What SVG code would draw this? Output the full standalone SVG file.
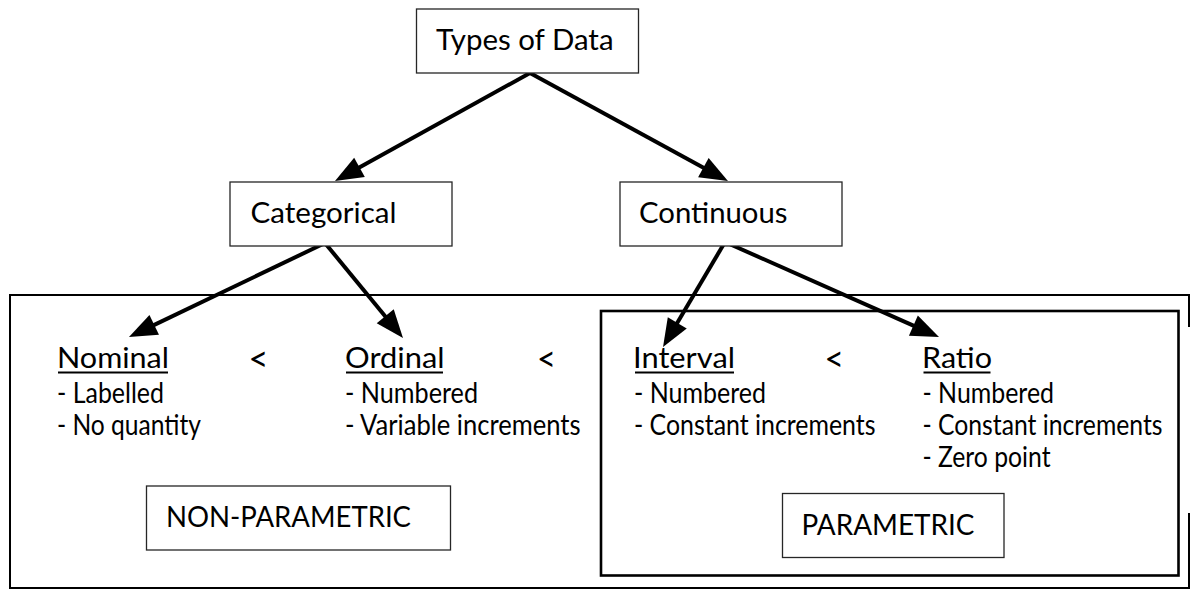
<svg xmlns="http://www.w3.org/2000/svg" width="1191" height="590" viewBox="0 0 1191 590">
  <style>
    text { font-family: Lato, "Open Sans", "Liberation Sans", sans-serif; font-size: 28px; fill: #000; }
    .sign { font-size: 34px; }
    .box { fill: #fff; stroke: #262626; stroke-width: 1.3; }
    .frame { fill: none; stroke: #000; stroke-width: 2; }
    .inner { fill: none; stroke: #000; stroke-width: 2.6; }
    .arrow { fill: none; stroke: #000; stroke-width: 4; marker-end: url(#head); }
    .uline { stroke: #000; stroke-width: 1.8; }
  </style>
  <defs>
    <marker id="head" markerUnits="userSpaceOnUse" markerWidth="28" markerHeight="22" refX="8" refY="11" orient="auto" overflow="visible">
      <path d="M0,0 L28,11 L0,22 z" fill="#000"/>
    </marker>
  </defs>

  <!-- outer frame (open on the right side) and the parametric frame -->
  <g id="non-parametric-frame">
    <path class="frame" d="M1189,327 V295 H10 V588 H1189 V513"/>
  </g>
  <g id="parametric-frame">
    <rect class="inner" x="601" y="311" width="577.5" height="264.5"/>
  </g>

  <g id="connectors">
    <line class="arrow" x1="530" y1="73" x2="352.5" y2="171.3"/>
    <line class="arrow" x1="530" y1="73" x2="710.4" y2="171.4"/>
    <line class="arrow" x1="325" y1="243" x2="147" y2="328.4"/>
    <line class="arrow" x1="325" y1="243" x2="390.3" y2="322.5"/>
    <line class="arrow" x1="725" y1="242" x2="673.2" y2="329.8"/>
    <line class="arrow" x1="725" y1="242" x2="920.7" y2="328.9"/>
  </g>

  <g id="types-of-data">
    <rect class="box" x="416.5" y="9" width="222" height="64"/>
    <text x="436" y="50" textLength="177.5" lengthAdjust="spacingAndGlyphs">Types of Data</text>
  </g>
  <g id="categorical">
    <rect class="box" x="230" y="182" width="222" height="64"/>
    <text x="250.5" y="222.5" textLength="146" lengthAdjust="spacingAndGlyphs">Categorical</text>
  </g>
  <g id="continuous">
    <rect class="box" x="620" y="182" width="222" height="64"/>
    <text x="639" y="222.5" textLength="148.5" lengthAdjust="spacingAndGlyphs">Continuous</text>
  </g>

  <g id="nominal">
    <text x="57" y="368" textLength="112" lengthAdjust="spacingAndGlyphs">Nominal</text>
    <line class="uline" x1="58" y1="372.5" x2="168" y2="372.5"/>
    <text x="57" y="402.5" textLength="107" lengthAdjust="spacingAndGlyphs">- Labelled</text>
    <text x="57" y="434.5" textLength="144" lengthAdjust="spacingAndGlyphs">- No quantity</text>
  </g>
  <g id="ordinal">
    <text x="345" y="368" textLength="99.5" lengthAdjust="spacingAndGlyphs">Ordinal</text>
    <line class="uline" x1="346" y1="372.5" x2="443" y2="372.5"/>
    <text x="345" y="402.5" textLength="133" lengthAdjust="spacingAndGlyphs">- Numbered</text>
    <text x="345" y="434.5" textLength="235.5" lengthAdjust="spacingAndGlyphs">- Variable increments</text>
  </g>
  <g id="interval">
    <text x="633" y="368" textLength="102" lengthAdjust="spacingAndGlyphs">Interval</text>
    <line class="uline" x1="635" y1="372.5" x2="734" y2="372.5"/>
    <text x="634" y="402.5" textLength="132" lengthAdjust="spacingAndGlyphs">- Numbered</text>
    <text x="634" y="434.5" textLength="241.5" lengthAdjust="spacingAndGlyphs">- Constant increments</text>
  </g>
  <g id="ratio">
    <text x="922" y="368" textLength="70" lengthAdjust="spacingAndGlyphs">Ratio</text>
    <line class="uline" x1="923.5" y1="372.5" x2="990.5" y2="372.5"/>
    <text x="922.5" y="402.5" textLength="131.5" lengthAdjust="spacingAndGlyphs">- Numbered</text>
    <text x="922.5" y="434.5" textLength="240" lengthAdjust="spacingAndGlyphs">- Constant increments</text>
    <text x="922.5" y="467" textLength="128" lengthAdjust="spacingAndGlyphs">- Zero point</text>
  </g>

  <g id="order-signs">
    <text class="sign" x="248.5" y="371" textLength="20" lengthAdjust="spacingAndGlyphs">&lt;</text>
    <text class="sign" x="537" y="371" textLength="19" lengthAdjust="spacingAndGlyphs">&lt;</text>
    <text class="sign" x="824.5" y="371" textLength="19.5" lengthAdjust="spacingAndGlyphs">&lt;</text>
  </g>

  <g id="non-parametric">
    <rect class="box" x="146.5" y="486" width="304" height="64"/>
    <text x="166" y="527" textLength="245" lengthAdjust="spacingAndGlyphs">NON-PARAMETRIC</text>
  </g>
  <g id="parametric">
    <rect class="box" x="782.5" y="493.5" width="221.5" height="64"/>
    <text x="801.5" y="535" textLength="173" lengthAdjust="spacingAndGlyphs">PARAMETRIC</text>
  </g>
</svg>
